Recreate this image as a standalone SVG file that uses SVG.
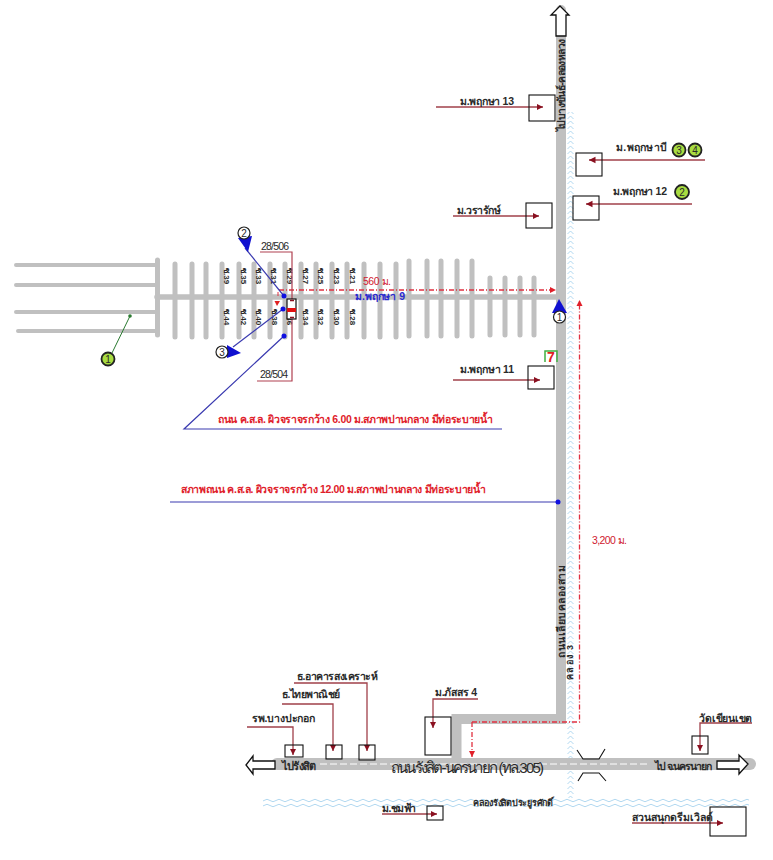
<svg xmlns="http://www.w3.org/2000/svg" width="773" height="860" viewBox="0 0 773 860">
<style>
text{font-family:"Liberation Sans","Noto Sans","DejaVu Sans",sans-serif;font-size:10.500px;fill:#2a2a2a}
.b{font-weight:bold}
.road{stroke:#c0c0c0;fill:none;stroke-linecap:round}
.box{fill:none;stroke:#111;stroke-width:1.100}
.lead{fill:none;stroke:#a0404a;stroke-width:1.300;marker-end:url(#ah)}
.blue{fill:none;stroke:#3a3ab0;stroke-width:1.200}
.soi{font-size:8px;font-weight:bold}
.red{fill:#e0202a;font-weight:bold}
.dash{fill:none;stroke:#e03040;stroke-width:1.300;stroke-dasharray:5 2 1 2}
.arrow{fill:#fff;stroke:#111;stroke-width:1.300}
.gc{fill:#a8dc40;stroke:#222;stroke-width:1.800}
.wc{fill:#fff;stroke:#222;stroke-width:1.200}
.num{font-size:10px;text-anchor:middle}
.dot{fill:#1010e0}
</style>
<defs>
<marker id="ah" markerWidth="6" markerHeight="6" refX="5" refY="3" orient="auto"><path d="M0,0.5L5,3L0,5.500z" fill="#8a1020"/></marker>
<marker id="rh" markerWidth="7" markerHeight="7" refX="6" refY="3.500" orient="auto" markerUnits="userSpaceOnUse"><path d="M0,0.500L6,3.500L0,6.500z" fill="#e0202a"/></marker>
<pattern id="wv" width="7" height="5" patternUnits="userSpaceOnUse" x="567"><path d="M0.500,4L3.500,1L6.500,4" fill="none" stroke="#a8d4ee" stroke-width="0.900"/></pattern>
<pattern id="wh" width="12" height="5" patternUnits="userSpaceOnUse" y="798"><path d="M0,2.500Q3,0 6,2.500T12,2.500" fill="none" stroke="#a8d4ee" stroke-width="0.900"/></pattern>
</defs>

<g id="water">
<rect x="567" y="112" width="7" height="686" fill="url(#wv)"/>
<rect x="263" y="798" width="486" height="10" fill="url(#wh)"/>
</g>

<g id="roads">
<path class="road" stroke-width="10" stroke-linecap="butt" d="M561,10V719H456.500V760"/>
<path class="road" stroke-width="12" d="M277,764H750"/>
<path d="M320,764H650" stroke="#fff" stroke-width="1" stroke-dasharray="7 3" fill="none"/>
<path class="road" stroke-width="5.500" stroke-linecap="butt" d="M157,297H556"/>
<path class="road" stroke-width="5" d="M157.500,260V335"/>
<path class="road" stroke-width="4" d="M16,265H155M16,285H155M16,312H155M18,331H155"/>
<path class="road" stroke-width="5" d="M175,264V337M192,264V337M206,264V337M222,264V337M239,264V337M254,264V337M270,264V337M285,264V337M301,264V337M316,264V337M332,264V337M347,264V337M364,264V337M380,264V337M396,264V337M409,261V336M427,261V336M441,261V336M457,261V336M472,261V336M490,278V335M505,278V335M520,278V335M534,278V335"/>
</g>

<g id="soi-labels">
<text class="soi" transform="translate(224,268) rotate(90)">ซ.39</text>
<text class="soi" transform="translate(241,268) rotate(90)">ซ.35</text>
<text class="soi" transform="translate(256,268) rotate(90)">ซ.33</text>
<text class="soi" transform="translate(271,268) rotate(90)">ซ.31</text>
<text class="soi" transform="translate(287,268) rotate(90)">ซ.29</text>
<text class="soi" transform="translate(303,268) rotate(90)">ซ.27</text>
<text class="soi" transform="translate(318,268) rotate(90)">ซ.25</text>
<text class="soi" transform="translate(334,268) rotate(90)">ซ.23</text>
<text class="soi" transform="translate(350,268) rotate(90)">ซ.21</text>
<text class="soi" transform="translate(224,309) rotate(90)">ซ.44</text>
<text class="soi" transform="translate(241,309) rotate(90)">ซ.42</text>
<text class="soi" transform="translate(256,309) rotate(90)">ซ.40</text>
<text class="soi" transform="translate(272,309) rotate(90)">ซ.38</text>
<text class="soi" transform="translate(287,309) rotate(90)">ซ.36</text>
<text class="soi" transform="translate(303,309) rotate(90)">ซ.34</text>
<text class="soi" transform="translate(318,309) rotate(90)">ซ.32</text>
<text class="soi" transform="translate(334,309) rotate(90)">ซ.30</text>
<text class="soi" transform="translate(350,309) rotate(90)">ซ.28</text>
</g>

<g id="connectors">
<path class="dash" marker-end="url(#rh)" d="M279,290H556"/>
<path class="dash" marker-end="url(#rh)" d="M472,722H579.500V300"/>
<path class="dash" marker-end="url(#rh)" d="M472,722V757"/>
<path d="M260,252H292V381H257" fill="none" stroke="#b04050" stroke-width="1.200"/>
<path class="blue" d="M284,296L245,248"/>
<path class="blue" d="M283,309L233,347"/>
<path class="blue" d="M284,336L184,429H502"/>
<path class="blue" d="M170,502H558"/>
<path d="M130,316L112,353" fill="none" stroke="#2a7a30" stroke-width="1"/>
<path class="lead" d="M436,107H543"/>
<path class="lead" d="M705,160H589"/>
<path class="lead" d="M692,204H586"/>
<path class="lead" d="M453,216H539"/>
<path class="lead" d="M453,380H540"/>
<path class="lead" d="M247,727H293V755"/>
<path class="lead" d="M282,704H333V751"/>
<path class="lead" d="M294,683H367V751"/>
<path class="lead" d="M478,699H433V728"/>
<path class="lead" d="M382,814H437"/>
<path class="lead" d="M752,723H700V751"/>
<path class="lead" d="M632,823H723"/>
</g>

<g id="arrows">
<path id="arrow-north" class="arrow" d="M560,6L569,15H566V36H556V15H551z"/>
<path id="arrow-west" class="arrow" d="M246,765L253,756V761H275V769H253V774z"/>
<path id="arrow-east" class="arrow" d="M748,764L739,755V761H717V769H739V774z"/>
</g>

<g id="bridge"><path d="M577,750L583,759H599L605,749M578,781L583,773H599L606,781" fill="none" stroke="#111" stroke-width="1.100"/></g>

<g id="m13"><rect class="box" x="529" y="95" width="26" height="26"/><text x="460" y="105" class="b" textLength="54">ม.พฤกษา 13</text></g>
<g id="mb"><rect class="box" x="576" y="153" width="26" height="23"/><text x="616" y="151" class="b" textLength="51">ม.พฤกษาบี</text></g>
<g id="m12"><rect class="box" x="573" y="196" width="26" height="24"/><text x="613" y="195" class="b" textLength="54">ม.พฤกษา 12</text></g>
<g id="mw"><rect class="box" x="526" y="203" width="26" height="25"/><text x="457" y="214" class="b" textLength="44">ม.วรารักษ์</text></g>
<g id="m11"><rect class="box" x="528" y="366" width="26" height="23"/><text x="460" y="373" class="b" textLength="54">ม.พฤกษา 11</text></g>
<g id="m9"><text x="355" y="300" font-weight="bold" style="fill:#2a2ad0" textLength="50">ม.พฤกษา 9</text><text x="363" y="285" style="fill:#d02030" textLength="28">560 ม.</text></g>

<g id="seven"><path d="M545,362V351H557V362" fill="none" stroke="#40b040" stroke-width="1.500"/><text x="547" y="362" style="font-size:14px;font-weight:bold;fill:#e02020">7</text></g>

<g id="house"><rect x="287" y="299" width="9" height="20" fill="#fff" stroke="#111" stroke-width="1.200"/><rect x="287" y="308" width="9" height="4" fill="#e01010"/><path d="M290,300.500H294M290,317.500H294" stroke="#8a1020" stroke-width="1.500"/><path d="M278,292V296" stroke="#e03040"/><path d="M274.500,301H280L277,306z" fill="#e02020"/></g>

<g id="pt2"><path d="M238,238L252,236L248,252z" fill="#1010d0"/><circle class="wc" cx="244" cy="233" r="6"/><text class="num" x="244" y="236.500">2</text><circle class="dot" cx="284" cy="296" r="2.500"/></g>
<g id="pt3"><path d="M227,345L241,353L227,358z" fill="#1010d0"/><circle class="wc" cx="222" cy="352" r="6"/><text class="num" x="222" y="355.500">3</text><circle class="dot" cx="283" cy="309" r="2.500"/></g>
<g id="pt1"><path d="M559,299L567,313H552z" fill="#1010d0"/><circle class="wc" cx="559.500" cy="317" r="6"/><text class="num" x="559.500" y="320.500">1</text></g>
<g id="dots"><circle class="dot" cx="284" cy="336" r="2.500"/><circle class="dot" cx="558" cy="502" r="2.500"/><circle cx="130" cy="316" r="1.800" fill="#2a7a30"/></g>

<g id="g1"><circle class="gc" cx="108" cy="359" r="6.500"/><text class="num" x="108" y="362.500">1</text></g>
<g id="g2"><circle class="gc" cx="682" cy="192" r="7"/><text class="num" x="682" y="196">2</text></g>
<g id="g3"><circle class="gc" cx="679" cy="150" r="6.500"/><text class="num" x="679" y="153.500">3</text></g>
<g id="g4"><circle class="gc" cx="695" cy="150" r="6.500"/><text class="num" x="695" y="153.500">4</text></g>

<g id="labels">
<text x="261" y="250" textLength="28">28/506</text>
<text x="260" y="378" textLength="28">28/504</text>
<text class="red" x="218" y="423" textLength="275">ถนน ค.ส.ล. ผิวจราจรกว้าง 6.00 ม.สภาพปานกลาง มีท่อระบายน้ำ</text>
<text class="red" x="181" y="493" textLength="305">สภาพถนน ค.ส.ล. ผิวจราจรกว้าง 12.00 ม.สภาพปานกลาง มีท่อระบายน้ำ</text>
<text x="592" y="544" style="fill:#d02030" textLength="35">3,200 ม.</text>
<text class="b" transform="translate(565,131) rotate(-90)" textLength="92">ไปบางขันธ์-คลองหลวง</text>
<text class="b" transform="translate(565,658) rotate(-90)" textLength="93">ถนนเลียบคลองสาม</text>
<text class="b" transform="translate(573,680) rotate(-90)" style="font-size:9px" textLength="35">คลอง 3</text>
</g>

<g id="bottom">
<g id="n-bk"><rect class="box" x="285" y="745" width="18" height="12"/><text class="b" x="252" y="722" textLength="63">รพ.บางปะกอก</text></g>
<g id="n-tp"><rect class="box" x="326" y="745" width="16" height="14"/><text class="b" x="282" y="698" textLength="58">ธ.ไทยพาณิชย์</text></g>
<g id="n-gh"><rect class="box" x="359" y="745" width="16" height="15"/><text class="b" x="297" y="680" textLength="81">ธ.อาคารสงเคราะห์</text></g>
<g id="n-ps"><rect class="box" x="425" y="717" width="26" height="38"/><text class="b" x="435" y="696" textLength="42">ม.ภัสสร 4</text></g>
<g id="n-cf"><rect class="box" x="427" y="806" width="16" height="14"/><text class="b" x="382" y="812" textLength="34">ม.ชมฟ้า</text></g>
<g id="n-wat"><rect class="box" x="692" y="736" width="16" height="18"/><text class="b" x="699" y="722" textLength="53">วัดเขียนเขต</text></g>
<g id="n-dw"><rect class="box" x="710" y="807" width="36" height="29"/><text class="b" x="632" y="821" textLength="81">สวนสนุกดรีมเวิลด์</text></g>
<text class="b" x="282" y="770" textLength="34" style="font-size:11px">ไปรังสิต</text>
<text x="391" y="773" textLength="153" style="font-size:15px">ถนนรังสิต-นครนายก (ทล.305)</text>
<text class="b" x="655" y="770" textLength="57">ไป จ.นครนายก</text>
<text class="b" x="473" y="806" textLength="80" style="font-size:9px">คลองรังสิตประยูรศักดิ์</text>
</g>
</svg>
